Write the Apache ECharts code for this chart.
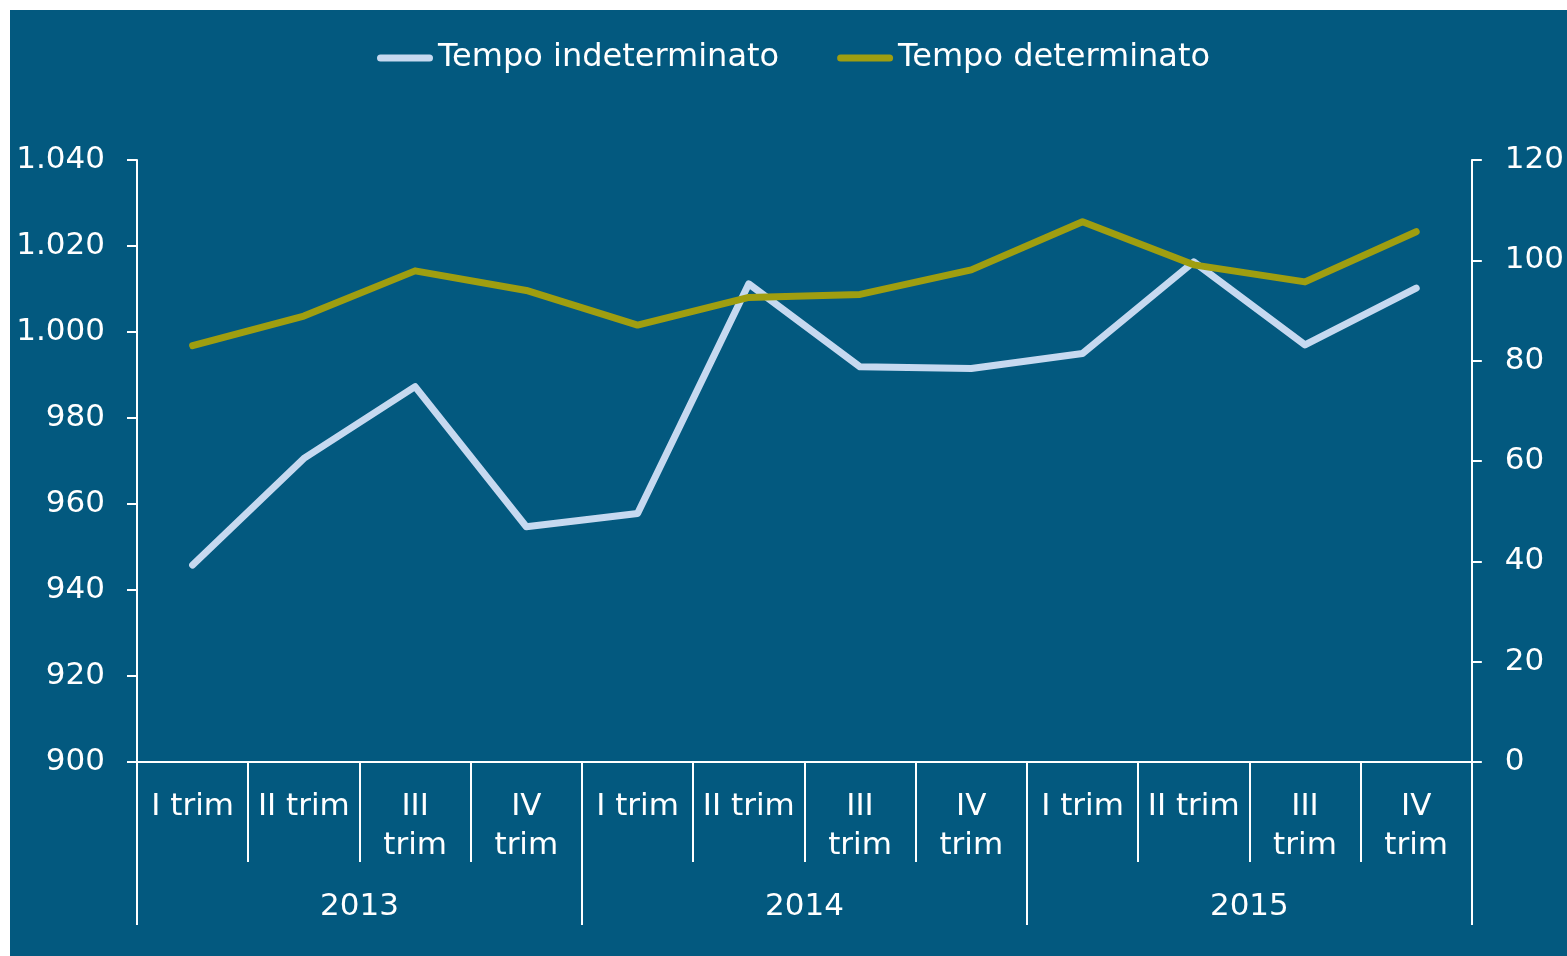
<!DOCTYPE html>
<html>
<head>
<meta charset="utf-8">
<script src="https://cdn.jsdelivr.net/npm/echarts@6/dist/echarts.min.js"></script>
<style>
  html, body { margin: 0; padding: 0; background: #ffffff; }
  #chart { position: absolute; left: 10px; top: 10px; width: 1557px; height: 946px; background: #03597f; }
</style>
</head>
<body>
<div id="chart"></div>
<script>
var quarters = ['I trim', 'II trim', 'III\ntrim', 'IV\ntrim',
                'I trim', 'II trim', 'III\ntrim', 'IV\ntrim',
                'I trim', 'II trim', 'III\ntrim', 'IV\ntrim'];
var years = ['2013', '2014', '2015'];
// migliaia, asse sinistro
var indeterminato = [945.8, 970.6, 987.3, 954.7, 957.8, 1011.2, 991.9, 991.5, 995.0, 1016.3, 997.0, 1010.2];
// migliaia, asse destro
var determinato = [83.0, 88.9, 97.9, 94.0, 87.1, 92.6, 93.2, 98.1, 107.7, 99.1, 95.7, 105.7];

var white = '#ffffff';
var font = 'DejaVu Sans, Verdana, sans-serif';

function thousands(v) {
    if (v >= 1000) {
        return Math.floor(v / 1000) + '.' + String(v % 1000).padStart(3, '0');
    }
    return String(v);
}

var chart = echarts.init(document.getElementById('chart'));
var option = {
    animation: false,
    textStyle: { fontFamily: font },
    legend: {
        left: 362,
        top: 26,
        itemWidth: 56,
        itemHeight: 7,
        itemGap: 58,
        icon: 'path://M3.5,0 L52.5,0 A3.5,3.5 0 0 1 52.5,7 L3.5,7 A3.5,3.5 0 0 1 3.5,0 Z',
        textStyle: { color: white, fontSize: 32, fontFamily: font, lineHeight: 34 },
        data: ['Tempo indeterminato', 'Tempo determinato']
    },
    grid: { left: 127, right: 94, top: 150, bottom: 194, containLabel: false },
    xAxis: [
        {
            type: 'category',
            data: quarters,
            position: 'bottom',
            boundaryGap: true,
            axisLine: { show: true, lineStyle: { color: white, width: 2 } },
            axisTick: { show: true, interval: 0, length: 100, lineStyle: { color: white, width: 2 } },
            axisLabel: { interval: 0, color: white, fontSize: 31, fontFamily: font, lineHeight: 39, margin: 25 },
            splitLine: { show: false }
        },
        {
            type: 'category',
            data: years,
            position: 'bottom',
            offset: 0,
            boundaryGap: true,
            axisLine: { show: false },
            axisTick: { show: true, interval: 0, length: 163, lineStyle: { color: white, width: 2 } },
            axisLabel: { interval: 0, color: white, fontSize: 31, fontFamily: font, lineHeight: 39, margin: 125 },
            splitLine: { show: false }
        }
    ],
    yAxis: [
        {
            type: 'value',
            position: 'left',
            min: 900,
            max: 1040,
            interval: 20,
            axisLine: { show: true, lineStyle: { color: white, width: 2 } },
            axisTick: { show: true, inside: false, length: 10, lineStyle: { color: white, width: 2 } },
            axisLabel: { color: white, fontSize: 31, fontFamily: font, margin: 32, formatter: thousands },
            splitLine: { show: false }
        },
        {
            type: 'value',
            position: 'right',
            min: 0,
            max: 120,
            interval: 20,
            axisLine: { show: true, lineStyle: { color: white, width: 2 } },
            axisTick: { show: true, inside: false, length: 10, lineStyle: { color: white, width: 2 } },
            axisLabel: { color: white, fontSize: 31, fontFamily: font, margin: 33 },
            splitLine: { show: false }
        }
    ],
    series: [
        {
            name: 'Tempo indeterminato',
            type: 'line',
            xAxisIndex: 0,
            yAxisIndex: 0,
            data: indeterminato,
            symbol: 'none',
            itemStyle: { color: '#c6d9f0' },
            lineStyle: { color: '#c6d9f0', width: 7, cap: 'round', join: 'round' },
            z: 2
        },
        {
            name: 'Tempo determinato',
            type: 'line',
            xAxisIndex: 0,
            yAxisIndex: 1,
            data: determinato,
            symbol: 'none',
            itemStyle: { color: '#9f9e10' },
            lineStyle: { color: '#9f9e10', width: 7, cap: 'round', join: 'round' },
            z: 3
        }
    ]
};
chart.setOption(option);
</script>
</body>
</html>
